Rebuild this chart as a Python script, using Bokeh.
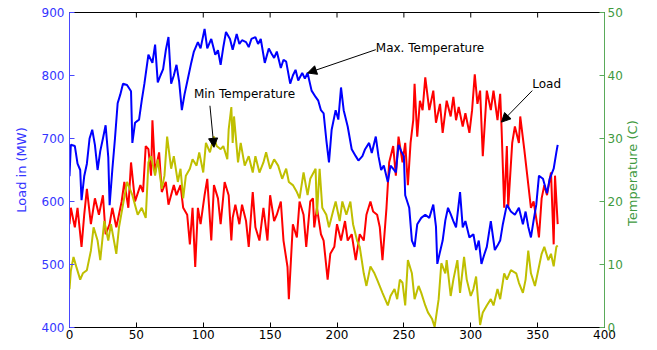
import math
from bokeh.plotting import figure
from bokeh.layouts import row
from bokeh.models import LinearAxis, Range1d, Arrow, NormalHead, Label, FixedTicker
from bokeh.core.properties import value
from bokeh.embed import file_html
from bokeh.resources import INLINE

# ---- data ----
load_day = [0, 1, 4, 6, 9, 11, 13, 16, 19, 22, 25, 27, 30, 32, 35, 39, 41, 44, 46, 49,
            53, 55, 57, 59, 61, 62, 64, 67, 69, 72, 74, 78, 80, 83, 85, 88, 90, 92, 94, 96,
            98, 101, 103, 106, 108, 111, 113, 116, 119, 121, 122, 124, 127, 129, 132, 134, 137, 139, 142, 145,
            148, 150, 153, 155, 158, 160, 163, 164, 167, 170, 172, 175, 177, 180, 182, 183, 185, 188, 190, 193,
            195, 198, 200, 203, 206, 208, 211, 214, 217, 220, 222, 225, 227, 230, 232, 234, 237, 239, 242, 244,
            246, 249, 251, 253, 255, 257, 258, 260, 262, 264, 266, 269, 272, 274, 277, 279, 282, 285, 287, 289,
            291, 294, 296, 299, 301, 303, 305, 307, 309, 312, 315, 317, 320, 322, 323, 325, 327, 328, 331, 333,
            336, 337, 340, 342, 345, 347, 350, 351, 353, 355, 357, 360, 362, 363, 365]
load_mw = [564, 590, 559, 590, 528, 579, 620, 564, 605, 579, 610, 548, 564, 590, 559, 600, 631, 590, 662, 600,
           626, 615, 688, 683, 641, 729, 646, 678, 615, 631, 595, 626, 610, 626, 590, 579, 532, 590, 496, 590,
           564, 610, 636, 538, 626, 605, 564, 631, 610, 538, 574, 595, 564, 595, 569, 528, 615, 559, 538, 590,
           538, 610, 569, 579, 600, 538, 496, 445, 564, 543, 600, 579, 528, 600, 605, 559, 590, 548, 538, 476,
           517, 528, 564, 538, 569, 538, 548, 507, 548, 538, 579, 600, 584, 579, 559, 507, 590, 662, 688, 641,
           703, 662, 693, 626, 693, 729, 787, 703, 760, 745, 797, 745, 776, 725, 755, 709, 760, 735, 766, 729,
           750, 719, 740, 709, 745, 802, 755, 776, 672, 776, 745, 776, 729, 771, 719, 590, 688, 590, 693, 719,
           693, 735, 683, 646, 590, 600, 559, 543, 605, 626, 610, 646, 532, 641, 564]

tmax_day = [0, 1, 4, 6, 8, 9, 11, 13, 15, 17, 19, 21, 23, 25, 27, 29, 30, 32, 34, 36,
            38, 40, 43, 46, 47, 49, 52, 54, 56, 59, 62, 64, 66, 68, 70, 72, 74, 76, 78, 80,
            82, 84, 86, 89, 91, 93, 96, 98, 101, 103, 106, 109, 111, 113, 115, 117, 120, 122, 125, 127,
            129, 132, 134, 136, 139, 141, 143, 146, 149, 151, 153, 155, 158, 160, 162, 165, 167, 169, 171, 174,
            176, 178, 181, 184, 186, 188, 190, 192, 194, 196, 199, 201, 203, 205, 208, 211, 214, 216, 219, 221,
            224, 226, 229, 231, 233, 235, 238, 240, 242, 244, 246, 248, 250, 251, 254, 256, 258, 260, 263, 266,
            269, 272, 274, 275, 277, 279, 281, 283, 285, 287, 289, 292, 294, 296, 299, 302, 304, 306, 308, 310,
            312, 315, 318, 320, 322, 324, 327, 330, 333, 336, 339, 341, 343, 345, 347, 349, 351, 354, 357, 359,
            362, 364, 365]
tmax_c = [24.0, 29.0, 28.8, 26.0, 25.0, 20.2, 24.0, 26.0, 30.0, 31.4, 29.0, 25.0, 28.0, 30.0, 32.1, 27.0, 19.4, 25.0, 30.0, 35.6,
          37.0, 38.7, 38.5, 37.5, 29.3, 32.5, 33.0, 36.0, 38.7, 43.3, 42.0, 44.9, 38.9, 40.0, 41.0, 44.0, 46.1, 38.7, 40.0, 41.7,
          39.0, 34.5, 37.0, 40.0, 42.0, 43.8, 45.3, 44.3, 47.4, 44.3, 45.8, 43.3, 44.0, 41.7, 44.5, 46.9, 45.8, 44.1, 46.6, 45.0,
          45.6, 45.3, 44.5, 45.8, 46.1, 45.0, 45.8, 42.0, 44.3, 43.5, 42.8, 43.8, 41.2, 42.5, 42.2, 38.7, 40.0, 40.9, 39.2, 40.4,
          39.5, 40.4, 37.6, 36.6, 36.0, 34.5, 34.0, 29.8, 26.2, 31.4, 34.5, 33.0, 38.1, 34.5, 31.9, 28.3, 27.2, 26.5, 27.2, 28.3,
          29.3, 27.7, 30.3, 27.2, 25.0, 25.7, 23.1, 25.7, 25.2, 24.6, 29.0, 28.0, 27.2, 21.0, 19.0, 13.8, 12.8, 16.4, 17.4, 17.9,
          17.4, 19.5, 16.0, 10.1, 12.0, 13.8, 17.0, 19.0, 18.0, 16.9, 15.9, 21.5, 15.9, 16.9, 14.3, 14.8, 12.3, 13.8, 10.1, 11.5,
          12.8, 16.9, 12.3, 13.0, 13.8, 16.4, 19.5, 18.4, 17.9, 19.0, 16.4, 18.4, 16.0, 14.3, 17.0, 19.5, 24.1, 23.6, 21.3, 23.6,
          25.2, 27.8, 29.0]

tmin_day = [0, 1, 3, 5, 8, 10, 13, 16, 18, 21, 23, 26, 29, 31, 35, 37, 40, 43, 47, 51,
            54, 57, 59, 61, 64, 66, 69, 71, 73, 76, 78, 81, 83, 85, 87, 90, 92, 95, 97, 100,
            102, 105, 108, 110, 113, 115, 118, 119, 121, 122, 123, 126, 128, 131, 134, 137, 139, 142, 145, 147,
            150, 153, 156, 159, 162, 164, 167, 170, 172, 175, 178, 180, 184, 185, 187, 189, 192, 194, 197, 199,
            202, 204, 207, 210, 212, 215, 217, 220, 222, 225, 228, 230, 234, 238, 240, 243, 245, 247, 249, 251,
            253, 256, 258, 261, 263, 266, 268, 271, 273, 276, 278, 281, 282, 285, 287, 290, 292, 295, 297, 300,
            302, 304, 307, 309, 312, 315, 317, 320, 322, 325, 327, 330, 334, 336, 339, 341, 343, 345, 348, 350,
            353, 355, 358, 360, 362, 364, 365]
tmin_c = [6.1, 9.0, 11.2, 9.7, 7.6, 8.6, 9.1, 12.2, 15.9, 13.8, 10.7, 16.9, 13.8, 16.4, 11.7, 15.9, 19.5, 23.1, 21.0, 17.9,
          19.0, 17.4, 26.2, 27.2, 24.1, 26.7, 22.0, 24.1, 30.3, 25.2, 27.2, 23.1, 25.2, 20.5, 24.1, 25.2, 26.7, 25.7, 27.8, 24.6,
          29.3, 27.8, 30.3, 28.8, 28.3, 28.8, 26.7, 31.4, 35.0, 29.3, 33.5, 26.2, 29.3, 25.7, 27.2, 24.6, 27.2, 24.6, 26.2, 27.8,
          25.2, 26.7, 25.7, 23.6, 25.2, 23.1, 22.6, 21.5, 20.5, 24.6, 21.0, 23.6, 25.2, 17.9, 25.2, 19.0, 17.9, 15.9, 18.4, 20.0,
          16.9, 20.0, 17.9, 20.0, 16.4, 13.8, 12.8, 8.6, 6.6, 9.7, 8.6, 7.6, 5.5, 3.5, 5.0, 6.1, 4.5, 7.6, 7.1, 3.5,
          10.7, 8.6, 4.5, 6.6, 5.5, 3.5, 2.4, 1.4, 0.1, 4.5, 10.2, 8.6, 10.7, 5.0, 7.6, 10.7, 5.5, 11.2, 7.6, 5.0,
          6.1, 8.1, 0.4, 2.4, 3.5, 4.5, 3.5, 6.1, 4.5, 8.6, 7.6, 9.1, 8.6, 7.1, 5.5, 7.6, 12.2, 8.6, 6.6, 8.6,
          11.7, 12.8, 10.7, 11.7, 9.7, 12.8, 13.0]

x_ticks = [0, 50, 100, 150, 200, 250, 300, 350, 400]
load_ticks = [400, 500, 600, 700, 800, 900]
temp_ticks = [0, 10, 20, 30, 40, 50]
right_title = ["Temperature (C)"]

FONT = "DejaVu Sans"
BLUE_TXT = "#3535FF"
GREEN_TXT = "#3F9A3F"

p = figure(width=625, height=342, x_range=Range1d(0, 400), y_range=Range1d(400, 900),
           output_backend="svg", toolbar_location=None,
           min_border_left=69, min_border_right=20, min_border_top=12, min_border_bottom=15)
p.extra_y_ranges = {"temp": Range1d(0, 50)}
p.xgrid.visible = False
p.ygrid.visible = False
p.outline_line_color = "black"
p.background_fill_color = "white"
p.border_fill_color = "white"

# bottom axis
xa = p.xaxis[0]
xa.ticker = FixedTicker(ticks=x_ticks)
xa.axis_line_color = "black"
xa.major_tick_in = 5
xa.major_tick_out = 0
xa.minor_tick_line_color = None
xa.major_label_standoff = 2
xa.major_label_text_font = FONT
xa.major_label_text_font_size = "12px"
xa.major_label_text_color = "black"

# top-edge tick marks of the box (at the x tick positions)
p.segment(x0=x_ticks, y0=[900] * len(x_ticks), x1=x_ticks, y1=[892] * len(x_ticks),
          line_color="black", line_width=1)

# left axis (load)
ya = p.yaxis[0]
ya.ticker = FixedTicker(ticks=load_ticks)
ya.axis_line_color = "#4848FF"
ya.major_tick_line_color = "#4848FF"
ya.major_tick_in = 5
ya.major_tick_out = 0
ya.minor_tick_line_color = None
ya.major_label_standoff = 5
ya.major_label_text_font = FONT
ya.major_label_text_font_size = "12px"
ya.major_label_text_color = BLUE_TXT
ya.axis_label = "Load in (MW)"
ya.axis_label_text_font = FONT
ya.axis_label_text_font_size = "13px"
ya.axis_label_text_font_style = "normal"
ya.axis_label_text_color = BLUE_TXT
ya.axis_label_standoff = 10

# right axis (temperature)
ra = LinearAxis(y_range_name="temp", ticker=FixedTicker(ticks=temp_ticks))
ra.axis_line_color = "#5AAA5A"
ra.major_tick_line_color = "#5AAA5A"
ra.major_tick_in = 5
ra.major_tick_out = 0
ra.minor_tick_line_color = None
ra.major_label_standoff = 3
ra.major_label_text_font = FONT
ra.major_label_text_font_size = "12px"
ra.major_label_text_color = GREEN_TXT
p.add_layout(ra, "right")

# series
p.line(load_day, load_mw, line_color="#FF0000", line_width=2)
p.line(tmax_day, tmax_c, line_color="#0000FF", line_width=2, y_range_name="temp")
p.line(tmin_day, tmin_c, line_color="#BFBF00", line_width=2, y_range_name="temp")

# annotations
def arrow(tx, ty, hx, hy):
    p.add_layout(Arrow(end=NormalHead(size=9, fill_color="black", line_color="black"),
                       x_start=tx, y_start=ty, x_end=hx, y_end=hy,
                       line_color="black", line_width=1))

def label(text, x, y):
    p.add_layout(Label(x=x, y=y, text=text, text_font=FONT, text_font_size="12px",
                       text_color="black", text_align="left", text_baseline="middle"))

arrow(229, 841, 178, 804)
label("Max. Temperature", 229, 844)
arrow(346, 776, 323, 726)
label("Load", 346, 787)
arrow(105, 752, 108, 686)
label("Min Temperature", 93, 770)

# narrow strip holding the right axis title, reading bottom-to-top
p2 = figure(width=16, height=342, x_range=Range1d(-1, 1), y_range=p.y_range,
            output_backend="svg", toolbar_location=None,
            x_axis_location=None, y_axis_location=None,
            min_border_left=0, min_border_right=0, min_border_top=12, min_border_bottom=15)
p2.xgrid.visible = False
p2.ygrid.visible = False
p2.outline_line_color = None
p2.background_fill_color = "white"
p2.border_fill_color = "white"
p2.text(x=[-0.1], y=[645], text=right_title, angle=math.pi / 2,
        text_align="center", text_baseline="middle",
        text_font=value(FONT), text_font_size="13px", text_color=GREEN_TXT)

layout = row(p, p2, spacing=0)
open("out.html", "w").write(file_html(layout, INLINE))
